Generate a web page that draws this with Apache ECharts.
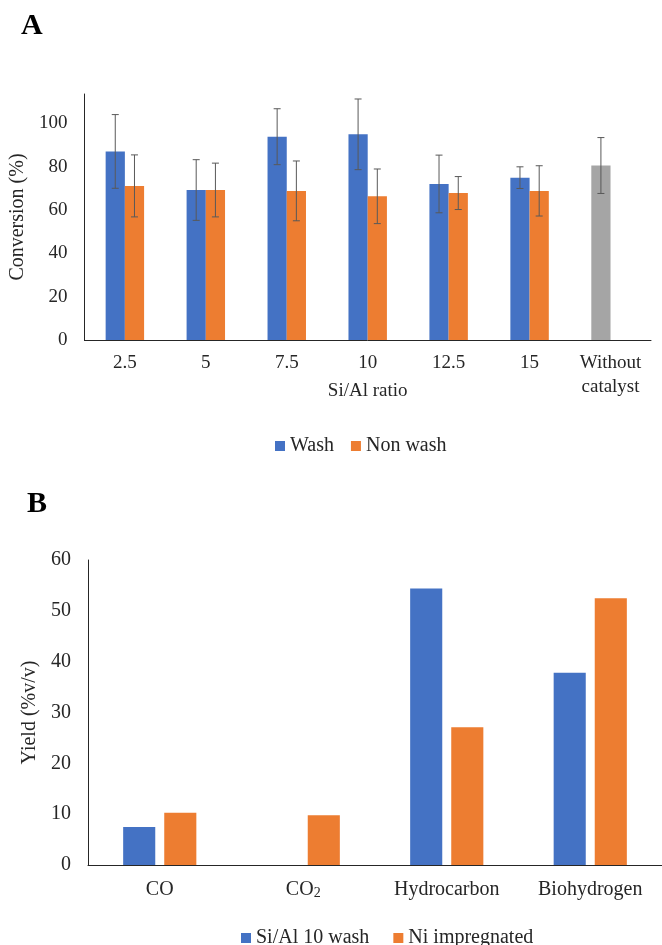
<!DOCTYPE html>
<html>
<head>
<meta charset="utf-8">
<script src="https://cdn.jsdelivr.net/npm/echarts@6/dist/echarts.min.js"></script>
<style>
html,body{margin:0;padding:0;background:#fff;}
#c{width:662px;height:945px;}
</style>
</head>
<body>
<div id="c"></div>
<script>
// ---- Panel A data ----
const catsA = ['2.5', '5', '7.5', '10', '12.5', '15', 'Without\ncatalyst'];
const washA = [87, 69.2, 93.8, 94.9, 72, 74.9, 80.5];
const washErrA = [17, 14, 12.9, 16.3, 13.3, 5, 12.9];
const nonWashA = [71.1, 69.2, 68.8, 66.3, 67.8, 68.8, null];
const nonWashErrA = [14.3, 12.4, 13.8, 12.6, 7.6, 11.6, null];
const yTicksA = [0, 20, 40, 60, 80, 100];

// ---- Panel B data ----
const catsB = ['CO', 'CO2', 'Hydrocarbon', 'Biohydrogen'];
const siAlB = [7.5, null, 54.4, 37.8];
const niB = [10.3, 9.8, 27.1, 52.5];
const yTicksB = [0, 10, 20, 30, 40, 50, 60];

const FONT = 'Liberation Serif';
const TXT = '#262626';
const BLUE = '#4472C4', ORANGE = '#ED7D31', GRAY = '#A5A5A5';
const GAP_A = 0.525;

const errData = [];
washA.forEach((v, i) => { if (v != null) errData.push([i, v, washErrA[i], -1]); });
nonWashA.forEach((v, i) => { if (v != null) errData.push([i, v, nonWashErrA[i], 1]); });

function renderErr(params, api) {
  const idx = api.value(0), val = api.value(1), err = api.value(2), side = api.value(3);
  const c = api.coord([idx, val]);
  const catW = api.size([1, 0])[0];
  const bw = catW * (1 - GAP_A) / 2;
  const x = c[0] + side * bw / 2;
  const yh = api.coord([idx, val + err])[1];
  const yl = api.coord([idx, val - err])[1];
  const cap = 3.5;
  const st = { stroke: '#595959', lineWidth: 1 };
  return {
    type: 'group',
    children: [
      { type: 'line', shape: { x1: x, y1: yh, x2: x, y2: yl }, style: st },
      { type: 'line', shape: { x1: x - cap, y1: yh, x2: x + cap, y2: yh }, style: st },
      { type: 'line', shape: { x1: x - cap, y1: yl, x2: x + cap, y2: yl }, style: st }
    ]
  };
}

const chart = echarts.init(document.getElementById('c'), null, { renderer: 'canvas' });
chart.setOption({
  backgroundColor: '#fff',
  animation: false,
  textStyle: { fontFamily: FONT, color: TXT },
  title: [
    { text: 'A', left: 16, top: 6, textStyle: { fontFamily: FONT, fontSize: 30, fontWeight: 'bold', color: '#000' } },
    { text: 'B', left: 22, top: 484, textStyle: { fontFamily: FONT, fontSize: 30, fontWeight: 'bold', color: '#000' } }
  ],
  legend: [
    {
      left: 270, top: 431, itemWidth: 10, itemHeight: 10, itemGap: 17,
      icon: 'rect',
      data: ['Wash', 'Non wash'],
      textStyle: { fontFamily: FONT, fontSize: 20, color: TXT }
    },
    {
      left: 236, top: 923, itemWidth: 10, itemHeight: 10, itemGap: 24,
      icon: 'rect',
      data: ['Si/Al 10 wash', 'Ni impregnated'],
      textStyle: { fontFamily: FONT, fontSize: 20, color: TXT }
    }
  ],
  grid: [
    { left: 82, top: 94, width: 569, height: 246 },
    { left: 88, top: 560, width: 580, height: 305 }
  ],
  xAxis: [
    {
      type: 'category', gridIndex: 0, data: catsA,
      axisLine: { lineStyle: { color: '#262626', width: 1 } },
      axisTick: { show: false },
      axisLabel: { fontFamily: FONT, fontSize: 19, color: TXT, margin: 11, lineHeight: 24, interval: 0 },
      name: 'Si/Al ratio', nameLocation: 'middle', nameGap: 42, nameMoveOverlap: false,
      nameTextStyle: { fontFamily: FONT, fontSize: 19, color: TXT }
    },
    {
      type: 'category', gridIndex: 1, data: catsB,
      axisLine: { lineStyle: { color: '#262626', width: 1 } },
      axisTick: { show: false },
      axisLabel: {
        fontFamily: FONT, fontSize: 20, color: TXT, margin: 13, interval: 0, lineHeight: 22,
        formatter: v => v === 'CO2' ? '{n|CO}{s|2}' : '{n|' + v + '}',
        rich: {
          n: { fontFamily: FONT, fontSize: 20, color: TXT, lineHeight: 22, verticalAlign: 'bottom' },
          s: { fontFamily: FONT, fontSize: 14, color: TXT, lineHeight: 22, verticalAlign: 'bottom' }
        }
      }
    }
  ],
  yAxis: [
    {
      type: 'value', gridIndex: 0, min: 0, max: 113.5, interval: 20,
      splitLine: { show: false },
      axisLine: { show: true, lineStyle: { color: '#262626', width: 1 } },
      axisTick: { show: false },
      axisLabel: {
        fontFamily: FONT, fontSize: 19, color: TXT, margin: 17,
        formatter: v => yTicksA.includes(v) ? String(v) : ''
      },
      name: 'Conversion (%)', nameLocation: 'middle', nameGap: 52,
      nameTextStyle: { fontFamily: FONT, fontSize: 20, color: TXT }
    },
    {
      type: 'value', gridIndex: 1, min: 0, max: 60, interval: 10,
      splitLine: { show: false },
      axisLine: { show: true, lineStyle: { color: '#262626', width: 1 } },
      axisTick: { show: false },
      axisLabel: {
        fontFamily: FONT, fontSize: 20, color: TXT, margin: 17,
        formatter: v => yTicksB.includes(v) ? String(v) : ''
      },
      name: 'Yield (%v/v)', nameLocation: 'middle', nameGap: 48,
      nameTextStyle: { fontFamily: FONT, fontSize: 20, color: TXT }
    }
  ],
  series: [
    {
      name: 'Wash', type: 'bar', xAxisIndex: 0, yAxisIndex: 0,
      barGap: '0%', barCategoryGap: (GAP_A * 100) + '%',
      itemStyle: { color: BLUE },
      data: washA.map((v, i) => i === catsA.length - 1 ? { value: v, itemStyle: { color: GRAY } } : v)
    },
    {
      name: 'Non wash', type: 'bar', xAxisIndex: 0, yAxisIndex: 0,
      barGap: '0%', barCategoryGap: (GAP_A * 100) + '%',
      itemStyle: { color: ORANGE },
      data: nonWashA.map(v => v == null ? '-' : v)
    },
    {
      name: 'err', type: 'custom', xAxisIndex: 0, yAxisIndex: 0,
      renderItem: renderErr, data: errData, z: 10, silent: true,
      encode: { x: 0, y: [1] }
    },
    {
      name: 'Si/Al 10 wash', type: 'bar', xAxisIndex: 1, yAxisIndex: 1,
      barGap: '28%', barCategoryGap: '49%',
      itemStyle: { color: BLUE },
      data: siAlB.map(v => v == null ? '-' : v)
    },
    {
      name: 'Ni impregnated', type: 'bar', xAxisIndex: 1, yAxisIndex: 1,
      barGap: '28%', barCategoryGap: '49%',
      itemStyle: { color: ORANGE },
      data: niB.map(v => v == null ? '-' : v)
    }
  ]
});
</script>
</body>
</html>
